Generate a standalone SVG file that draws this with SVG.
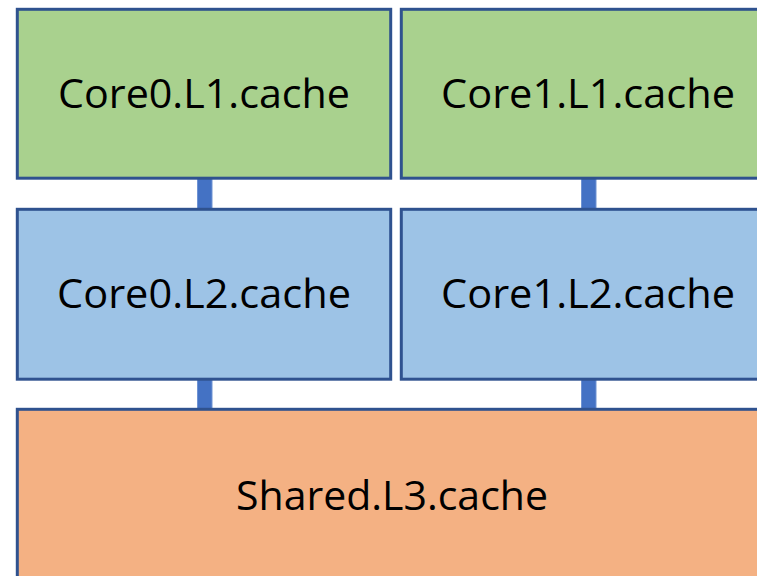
<svg xmlns="http://www.w3.org/2000/svg" width="757" height="576" viewBox="0 0 757 576">
<style>
.box{stroke:#2F528F;stroke-width:3}
.l1{fill:#A9D18E}
.l2{fill:#9DC3E6}
.l3{fill:#F4B183}
.lbl{font-family:"Open Sans","Noto Sans",sans-serif;font-size:41px;fill:#000;text-anchor:middle}
.conn{fill:#4472C4;stroke:#6F93D3;stroke-width:1}
</style>
<rect width="757" height="576" fill="#fff"/>
<g id="connectors">
<rect class="conn" x="197.5" y="178" width="14.5" height="31"/>
<rect class="conn" x="581.5" y="178" width="14.5" height="31"/>
<rect class="conn" x="197.5" y="378" width="14.5" height="31"/>
<rect class="conn" x="581.5" y="378" width="14.5" height="31"/>
</g>
<g id="core0-l1">
<rect class="box l1" x="17.3" y="9.3" width="373.4" height="168.9"/>
<text class="lbl" x="204" y="108" textLength="292" lengthAdjust="spacingAndGlyphs">Core0.L1.cache</text>
</g>
<g id="core1-l1">
<rect class="box l1" x="401.3" y="9.3" width="373.4" height="168.9"/>
<text class="lbl" x="588" y="108" textLength="294" lengthAdjust="spacingAndGlyphs">Core1.L1.cache</text>
</g>
<g id="core0-l2">
<rect class="box l2" x="17.3" y="209.3" width="373.4" height="169.9"/>
<text class="lbl" x="204" y="308" textLength="294" lengthAdjust="spacingAndGlyphs">Core0.L2.cache</text>
</g>
<g id="core1-l2">
<rect class="box l2" x="401.3" y="209.3" width="373.4" height="169.9"/>
<text class="lbl" x="588" y="308" textLength="294" lengthAdjust="spacingAndGlyphs">Core1.L2.cache</text>
</g>
<g id="shared-l3">
<rect class="box l3" x="17.3" y="409.3" width="757.4" height="190"/>
<text class="lbl" x="392" y="510" textLength="312" lengthAdjust="spacingAndGlyphs">Shared.L3.cache</text>
</g>
</svg>
